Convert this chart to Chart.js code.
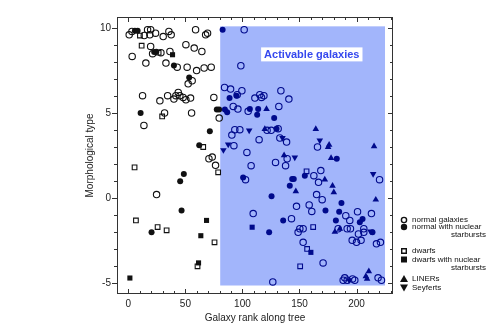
<!DOCTYPE html>
<html>
<head>
<meta charset="utf-8">
<script src="https://cdn.jsdelivr.net/npm/chart.js@4.4.1/dist/chart.umd.min.js"></script>
<style>
  body { margin: 0; background: #fff; }
</style>
</head>
<body>
<canvas id="c" width="491" height="327"></canvas>
<script>
// [rank, morphological type]
const normal = [
  [0.7,9.6],[3.1,9.8],[13.9,9.56],[16.8,9.9],[18.8,9.6],[19.5,9.9],[23.8,9.7],[30.5,9.5],[35.5,9.8],[37.5,9.6],[58.9,9.9],[67.7,9.6],[69.4,9.7],
  [19.5,8.92],[3.3,8.33],[21.2,8.49],[28.5,8.55],[36.4,8.62],[50.4,9.02],[57.7,8.82],[64.4,8.62],
  [15.3,7.94],[32.9,7.94],[42.8,7.7],[51.5,7.7],[59.8,7.5],[66.4,7.65],[72.6,7.7],
  [55.9,6.9],[52.4,6.72],
  [12.4,6.02],[27.6,5.72],[34.4,6.02],[39.9,5.82],[41.6,6.02],[43.7,6.21],[45.1,6.02],[48.0,5.92],[50.4,5.78],[54.5,5.88],[74.9,5.92],
  [31.7,5.0],[55.4,5.0],[79.6,4.7],[13.6,4.27],
  [70.6,2.31],[73.5,2.41],[76.4,1.92],[24.7,0.2],
  [101.5,9.9],[98.6,7.78],[84.3,6.5],[89.6,6.41],[99.5,6.31],[95.4,6.08],[110.9,5.88],[115.2,6.08],[116.7,5.92],[118.8,6.02],[133.7,6.31],[140.7,5.82],
  [91.9,5.39],[96.0,5.23],[105.0,5.1],[131.9,5.39],[93.3,4.02],[97.7,4.02],[90.7,3.7],[121.6,3.98],[125.2,3.98],[131.3,4.08],[114.6,3.43],[132.8,3.53],
  [138.7,3.29],[165.8,3.0],[92.5,3.08],[103.9,2.68],[139.2,2.31],[129,2.09],[137.8,1.9],[220.2,1.08],[107.6,1.9],[162.6,1.31],[168.7,1.61],[166.7,0.92],
  [102.7,1.08],[165,0.2],[169.9,-0.1],[109.4,-0.92],[147.4,-0.49],[158.5,-0.41],[160.8,-0.79],[190.6,-1.04],[200.9,-0.81],[213.1,-0.92],[194.1,-1.32],
  [143,-1.22],[150.3,-1.81],[153.2,-1.81],[148.8,-2.02],[183.9,-1.81],[191.8,-1.81],[194.7,-1.81],[201.7,-2.12],[206.4,-1.81],[206.4,-2.02],
  [153.2,-2.61],[196.2,-2.49],[200,-2.61],[204,-2.49],[217.5,-2.7],[221,-2.61],[170.7,-3.82],[126.6,-4.94],
  [188.3,-4.84],[189.7,-4.7],[191.8,-4.84],[196.5,-4.76],[198.5,-4.84],[218.9,-4.7],[221.9,-4.84]
];
const normalStarburst = [
  [5.7,9.84],[8.1,9.84],[22.6,8.59],[24.5,8.6],[39.9,7.8],[53.3,7.09],[10.7,5.0],[77.5,5.2],[79.5,5.2],[71.4,3.92],[62.1,3.1],
  [48.6,1.41],[45.4,0.98],[46.6,-0.73],[20.3,-2.02],
  [82.6,9.9],[88.7,5.88],[94.8,6.02],[84.6,5.2],[86.6,5.04],[106.5,5.23],[113.8,5.23],[112.9,4.9],[127.8,4.7],[129.9,4.08],[182.7,2.31],
  [100.6,1.21],[143.6,1.12],[145,1.12],[154.7,1.31],[141.5,0.72],[125.5,0.1],[186.8,-0.3],[172.8,-0.73],[184.8,-0.81],[181.9,-1.32],
  [205.3,-1.24],[202.9,-1.43],[135.7,-1.32],[123.4,-2.02],[214,-2.02]
];
const dwarfs = [
  [10.1,9.56],[11.6,8.96],[26.5,8.55],[29.6,4.8],[65.6,3.0],[78.7,1.51],[5.4,1.8],[6.6,-1.32],[25.6,-1.71],[33.5,-1.9],[75.5,-2.61],[60.6,-4.02],
  [156.2,1.57],[162,-1.71],[156.7,-3.0],[150.6,-4.02]
];
const dwarfsStarburst = [
  [38.7,8.43],[68.5,-1.32],[63.5,-2.22],[61.5,-3.82],[1.3,-4.71],[108.5,-1.72],[160,-3.2]
];
const liners = [
  [121.1,5.23],[119.6,4.06],[164.3,4.06],[176,3.13],[175.1,3.0],[215.4,3.04],[136.5,2.51],[177.7,2.35],[172.2,1.08],[146.8,0.39],
  [179,0.72],[180.1,0.33],[216.9,-0.1],[181,-2.0],[185.4,-1.81],[208.2,-4.61],[210.8,-4.32],[209.3,-4.76]
];
const seyferts = [
  [87.5,3.15],[83.3,2.82],[105.9,3.98],[135.1,3.53],[167.8,3.39],[145.9,2.39],[214.6,1.41],[212.2,-1.96],[193.5,-4.84]
];

const xTickLabels = [0, 50, 100, 150, 200];
const yTickLabels = [-5, 0, 5, 10];
const activable = { x0: 80.5, x1: 225, y0: -5.15, y1: 10.1, label: 'Activable galaxies', lx: 160.8, ly: 8.45 };

const BLACK = '#111';
const NAVY = '#000a8c';
const inkFor = ctx => (ctx.raw && ctx.raw.x > activable.x0) ? NAVY : BLACK;
const pts = arr => arr.map(p => ({ x: p[0], y: p[1] }));
const isInt = v => Math.abs(v - Math.round(v)) < 1e-6;
const isLabel = (list, v) => isInt(v) && list.includes(Math.round(v));

const FONT = "'Liberation Sans', Arial, sans-serif";

function marker(ctx, type, x, y) {
  ctx.save();
  ctx.fillStyle = BLACK; ctx.strokeStyle = BLACK; ctx.lineWidth = 1.4;
  ctx.beginPath();
  if (type === 'o' || type === '*') {
    ctx.arc(x, y, type === 'o' ? 2.6 : 3.2, 0, Math.PI * 2);
  } else if (type === 's' || type === 'S') {
    const h = type === 's' ? 2.3 : 3;
    ctx.rect(x - h, y - h, 2 * h, 2 * h);
  } else if (type === '^') {
    ctx.moveTo(x, y - 4); ctx.lineTo(x + 4, y + 3); ctx.lineTo(x - 4, y + 3); ctx.closePath();
  } else {
    ctx.moveTo(x, y + 4); ctx.lineTo(x + 4, y - 3); ctx.lineTo(x - 4, y - 3); ctx.closePath();
  }
  if (type === 'o' || type === 's') ctx.stroke(); else ctx.fill();
  ctx.restore();
}

const framePlugin = {
  id: 'frame',
  beforeDatasetsDraw(chart) {
    const { ctx, scales: { x, y } } = chart;
    ctx.save();
    const l = x.getPixelForValue(activable.x0), r = x.getPixelForValue(activable.x1);
    const t = y.getPixelForValue(activable.y1), b = y.getPixelForValue(activable.y0);
    ctx.fillStyle = 'rgb(162,181,251)';
    ctx.fillRect(l, t, r - l, b - t);
    ctx.font = 'bold 11px ' + FONT;
    const cx = x.getPixelForValue(activable.lx), cy = y.getPixelForValue(activable.ly);
    const w = ctx.measureText(activable.label).width + 6;
    ctx.fillStyle = '#fff';
    ctx.fillRect(cx - w / 2, cy - 7, w, 14);
    ctx.fillStyle = '#3548ee';
    ctx.textAlign = 'center'; ctx.textBaseline = 'middle';
    ctx.fillText(activable.label, cx, cy + 0.5);
    ctx.restore();
  },
  afterDraw(chart) {
    const { ctx, chartArea: a, scales: { x, y } } = chart;
    ctx.save();
    ctx.strokeStyle = '#333'; ctx.lineWidth = 1;
    ctx.strokeRect(Math.round(a.left) + 0.5, Math.round(a.top) + 0.5, Math.round(a.width) - 1, Math.round(a.height) - 1);
    ctx.beginPath();
    x.ticks.forEach(t => {
      const px = Math.round(x.getPixelForValue(t.value)) + 0.5;
      const len = isLabel(xTickLabels, t.value) ? 5 : 3;
      ctx.moveTo(px, a.bottom); ctx.lineTo(px, a.bottom - len);
      ctx.moveTo(px, a.top); ctx.lineTo(px, a.top + len);
    });
    y.ticks.forEach(t => {
      const py = Math.round(y.getPixelForValue(t.value)) + 0.5;
      const len = isLabel(yTickLabels, t.value) ? 5 : 3;
      ctx.moveTo(a.left, py); ctx.lineTo(a.left - len, py);
      ctx.moveTo(a.right, py); ctx.lineTo(a.right - len, py);
    });
    ctx.stroke();

    // legend
    const lx = 404, tx = 412, rx = 486;
    ctx.font = '8px ' + FONT;
    ctx.fillStyle = '#111'; ctx.textBaseline = 'middle';
    const rows = [
      ['o', 220, 'normal galaxies'],
      ['*', 227, 'normal with nuclear', 'starbursts', 235],
      ['s', 251, 'dwarfs'],
      ['S', 259.5, 'dwarfs with nuclear', 'starbursts', 268],
      ['^', 279, 'LINERs'],
      ['v', 287.5, 'Seyferts']
    ];
    rows.forEach(r => {
      marker(ctx, r[0], lx, r[1]);
      ctx.textAlign = 'left';
      ctx.fillText(r[2], tx, r[1]);
      if (r[3]) { ctx.textAlign = 'right'; ctx.fillText(r[3], rx, r[4]); }
    });
    ctx.restore();
  }
};

new Chart(document.getElementById('c'), {
  type: 'scatter',
  data: {
    datasets: [
      { label: 'normal galaxies', data: pts(normal), pointStyle: 'circle', pointRadius: 3.2, borderWidth: 1.1,
        backgroundColor: 'rgba(0,0,0,0)', borderColor: inkFor },
      { label: 'normal with nuclear starbursts', data: pts(normalStarburst), pointStyle: 'circle', pointRadius: 3,
        borderWidth: 0, backgroundColor: inkFor, borderColor: inkFor },
      { label: 'dwarfs', data: pts(dwarfs), pointStyle: 'rect', pointRadius: 3.3, borderWidth: 1.1,
        backgroundColor: 'rgba(0,0,0,0)', borderColor: inkFor },
      { label: 'dwarfs with nuclear starbursts', data: pts(dwarfsStarburst), pointStyle: 'rect', pointRadius: 3.6,
        borderWidth: 0, backgroundColor: inkFor, borderColor: inkFor },
      { label: 'LINERs', data: pts(liners), pointStyle: 'triangle', pointRadius: 3.8,
        borderWidth: 0, backgroundColor: inkFor, borderColor: inkFor },
      { label: 'Seyferts', data: pts(seyferts), pointStyle: 'triangle', rotation: 180, pointRadius: 3.8,
        borderWidth: 0, backgroundColor: inkFor, borderColor: inkFor }
    ]
  },
  options: {
    responsive: false,
    animation: false,
    events: [],
    layout: { padding: { left: 80, right: 98, top: 17, bottom: 0 } },
    plugins: { legend: { display: false }, tooltip: { enabled: false } },
    scales: {
      x: {
        type: 'linear', min: -10, max: 232,
        afterFit: s => { s.height = 33; },
        grid: { display: false, drawTicks: false },
        border: { display: false },
        ticks: {
          stepSize: 10, padding: 4, color: '#222', font: { family: FONT, size: 10 },
          maxRotation: 0, autoSkip: false, includeBounds: false,
          callback: v => isLabel(xTickLabels, v) ? Math.round(v) : ''
        },
        title: { display: true, text: 'Galaxy rank along tree', color: '#222',
          font: { family: FONT, size: 10 }, padding: { top: 0, bottom: 3 } }
      },
      y: {
        type: 'linear', min: -5.65, max: 10.65,
        afterFit: s => { s.width = 37; },
        afterBuildTicks: s => { s.ticks = s.ticks.filter(t => isInt(t.value)); },
        grid: { display: false, drawTicks: false },
        border: { display: false },
        ticks: {
          stepSize: 1, padding: 6, color: '#222', font: { family: FONT, size: 10 },
          autoSkip: false, includeBounds: false,
          callback: v => isLabel(yTickLabels, v) ? Math.round(v) : ''
        },
        title: { display: true, text: 'Morphological type', color: '#222',
          font: { family: FONT, size: 10 }, padding: { top: 4, bottom: 0 } }
      }
    }
  },
  plugins: [framePlugin]
});
</script>
</body>
</html>
